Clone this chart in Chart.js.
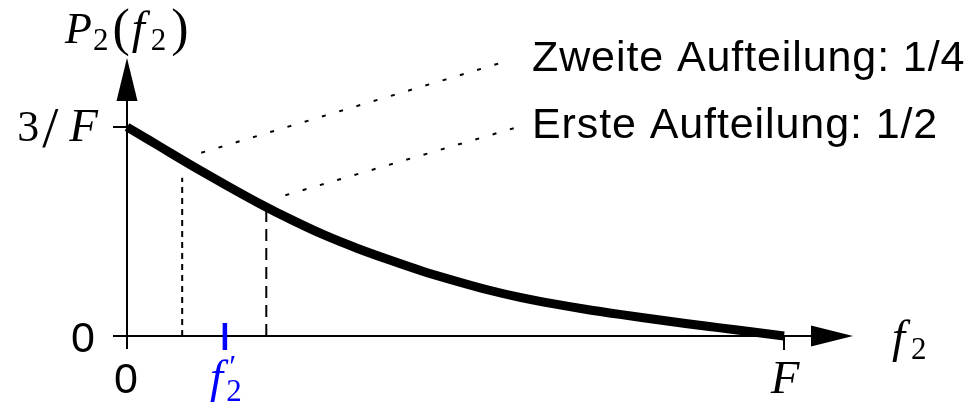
<!DOCTYPE html>
<html lang="de">
<head>
<meta charset="UTF-8">
<title>P2(f2)</title>
<script src="https://cdn.jsdelivr.net/npm/chart.js"></script>
<style>
  body { margin: 0; background: #fff; }
  canvas { display: block; }
</style>
</head>
<body>
<canvas id="grafico" width="966" height="409"></canvas>
<script>
// Dichte P2(f2), f2 in Einheiten von F, P2 in Einheiten von 1/F
const fWerte = [0, 0.05, 0.10, 0.15, 0.20, 0.25, 0.30, 0.35, 0.40, 0.45, 0.50,
                0.55, 0.60, 0.65, 0.70, 0.75, 0.80, 0.85, 0.90, 0.95, 1.00];
const pWerte = [3.00, 2.72, 2.44, 2.17, 1.91, 1.67, 1.45, 1.26, 1.09, 0.93, 0.79,
                0.66, 0.55, 0.46, 0.38, 0.31, 0.245, 0.18, 0.12, 0.06, 0.00];

// Aufteilungsgrenzen (gestrichelte Linien): Position und Hoehe
const teilungX = [0.084, 0.212];
const teilungY = [2.27, 1.81];

// Hinweislinien zu den Beschriftungen: Start- und Endpunkt
const hinweisStartX = [0.113, 0.241];
const hinweisStartY = [2.63, 2.02];
const hinweisEndeX = [0.583, 0.595];
const hinweisEndeY = [3.96, 3.00];
const hinweisText = ['Zweite Aufteilung: 1/4', 'Erste Aufteilung: 1/2'];

// Achsenmarken
const yMarken = [0, 3];
const xMarken = [0, 1];
const fStrich = 0.149;

const SERIF = '"Liberation Serif", "DejaVu Serif", serif';
const SANS = '"Liberation Sans", Arial, sans-serif';

function punkte(xs, ys) {
    return xs.map((x, i) => ({ x: x, y: ys[i] }));
}

// Text aus mehreren Teilen (kursiv, Index usw.) hintereinander zeichnen
function zeichneTeile(ctx, teile, x, y, ausrichtung) {
    let breite = 0;
    teile.forEach(t => { ctx.font = t.font; breite += ctx.measureText(t.t).width + (t.abstand || 0); });
    let cx = x;
    if (ausrichtung === 'center') cx = x - breite / 2;
    if (ausrichtung === 'right') cx = x - breite;
    ctx.textAlign = 'left';
    ctx.textBaseline = 'alphabetic';
    teile.forEach(t => {
        ctx.font = t.font;
        ctx.fillStyle = t.farbe || '#000';
        ctx.fillText(t.t, cx, y + (t.dy || 0));
        cx += ctx.measureText(t.t).width + (t.abstand || 0);
    });
}

const achsen = {
    id: 'achsen',
    beforeDatasetsDraw(chart) {
        const ctx = chart.ctx;
        const xs = chart.scales.x, ys = chart.scales.y;
        const x0 = xs.getPixelForValue(0), y0 = ys.getPixelForValue(0);
        const yTop = ys.getPixelForValue(yMarken[1]);
        ctx.save();
        ctx.strokeStyle = '#000';
        ctx.fillStyle = '#000';
        ctx.lineWidth = 2;
        ctx.beginPath();
        // y-Achse
        ctx.moveTo(x0, y0 + 13);
        ctx.lineTo(x0, 90);
        // x-Achse
        ctx.moveTo(x0 - 14, y0);
        ctx.lineTo(820, y0);
        // Marke 3/F
        ctx.moveTo(x0 - 14, yTop);
        ctx.lineTo(x0, yTop);
        // Marke F
        const xF = xs.getPixelForValue(xMarken[1]);
        ctx.moveTo(xF, y0);
        ctx.lineTo(xF, y0 + 14);
        ctx.stroke();

        // Pfeilspitzen
        ctx.beginPath();
        ctx.moveTo(x0, 58);
        ctx.lineTo(x0 - 10.5, 101);
        ctx.lineTo(x0 + 10.5, 101);
        ctx.closePath();
        ctx.fill();
        ctx.beginPath();
        ctx.moveTo(853, y0);
        ctx.lineTo(811, y0 - 10.5);
        ctx.lineTo(811, y0 + 10.5);
        ctx.closePath();
        ctx.fill();

        // blaue Marke f2'
        const xb = xs.getPixelForValue(fStrich);
        ctx.strokeStyle = '#0000ff';
        ctx.lineWidth = 4.5;
        ctx.beginPath();
        ctx.moveTo(xb, y0 - 13);
        ctx.lineTo(xb, y0 + 14);
        ctx.stroke();
        ctx.restore();
    },
    afterDraw(chart) {
        const ctx = chart.ctx;
        const xs = chart.scales.x, ys = chart.scales.y;
        const x0 = xs.getPixelForValue(0), y0 = ys.getPixelForValue(0);
        const yTop = ys.getPixelForValue(yMarken[1]);
        const it = 'italic 44px ' + SERIF, itg = 'italic 47px ' + SERIF;
        const rm = '44px ' + SERIF, kl = '52px ' + SERIF, sub = '31px ' + SERIF;
        ctx.save();

        zeichneTeile(ctx, [
            { t: 'P', font: it, abstand: 1 },
            { t: '2', font: sub, dy: 7, abstand: 4 },
            { t: '(', font: kl, dy: 2, abstand: 2 },
            { t: 'f', font: itg, abstand: 6 },
            { t: '2', font: sub, dy: 7, abstand: 5 },
            { t: ')', font: kl, dy: 2 }
        ], x0 - 62, 43, 'left');

        zeichneTeile(ctx, [
            { t: '3', font: rm, abstand: 3 },
            { t: '/', font: '58px ' + SERIF, dy: 6, abstand: 11 },
            { t: 'F', font: itg }
        ], x0 - 29, yTop + 14, 'right');

        ctx.font = '43px ' + SANS;
        ctx.fillStyle = '#000';
        ctx.textAlign = 'right';
        ctx.textBaseline = 'alphabetic';
        ctx.fillText('0', x0 - 32, y0 + 16);
        ctx.textAlign = 'center';
        ctx.fillText('0', x0 - 1, y0 + 57);

        zeichneTeile(ctx, [{ t: 'F', font: itg }], xs.getPixelForValue(xMarken[1]) + 1, y0 + 57, 'center');

        zeichneTeile(ctx, [
            { t: 'f', font: itg, farbe: '#0000ff', abstand: 6 },
            { t: '′', font: '32px ' + SERIF, farbe: '#0000ff', dy: -15, abstand: -10 },
            { t: '2', font: sub, farbe: '#0000ff', dy: 9 }
        ], xs.getPixelForValue(fStrich) + 1, y0 + 56, 'center');

        zeichneTeile(ctx, [
            { t: 'f', font: itg, abstand: 6 },
            { t: '2', font: sub, dy: 7 }
        ], 892, y0 + 16, 'left');

        ctx.font = '43px ' + SANS;
        ctx.letterSpacing = '0.9px';
        ctx.fillStyle = '#000';
        ctx.textAlign = 'left';
        ctx.fillText(hinweisText[0], 532, 71);
        ctx.fillText(hinweisText[1], 532, 138);
        ctx.restore();
    }
};

const datensaetze = [
    {
        data: punkte(fWerte, pWerte),
        borderColor: '#000',
        borderWidth: 9,
        borderCapStyle: 'butt',
        cubicInterpolationMode: 'monotone'
    },
    {
        data: [{ x: teilungX[0], y: 0 }, { x: teilungX[0], y: teilungY[0] }],
        borderColor: '#000',
        borderWidth: 2,
        borderDash: [6, 5]
    },
    {
        data: [{ x: teilungX[1], y: 0 }, { x: teilungX[1], y: teilungY[1] }],
        borderColor: '#000',
        borderWidth: 2,
        borderDash: [12, 7]
    },
    {
        data: [{ x: hinweisStartX[0], y: hinweisStartY[0] }, { x: hinweisEndeX[0], y: hinweisEndeY[0] }],
        borderColor: '#000',
        borderWidth: 2,
        borderDash: [4, 14]
    },
    {
        data: [{ x: hinweisStartX[1], y: hinweisStartY[1] }, { x: hinweisEndeX[1], y: hinweisEndeY[1] }],
        borderColor: '#000',
        borderWidth: 2,
        borderDash: [4, 14]
    }
];

new Chart(document.getElementById('grafico'), {
    type: 'scatter',
    data: { datasets: datensaetze.map(d => Object.assign({ showLine: true, pointRadius: 0, fill: false }, d)) },
    options: {
        responsive: false,
        animation: false,
        layout: { padding: 0 },
        plugins: { legend: { display: false }, tooltip: { enabled: false } },
        scales: {
            x: { type: 'linear', display: false, min: -0.1933, max: 1.277 },
            y: { type: 'linear', display: false, min: -1.048, max: 4.823 }
        }
    },
    plugins: [achsen]
});
</script>
</body>
</html>
